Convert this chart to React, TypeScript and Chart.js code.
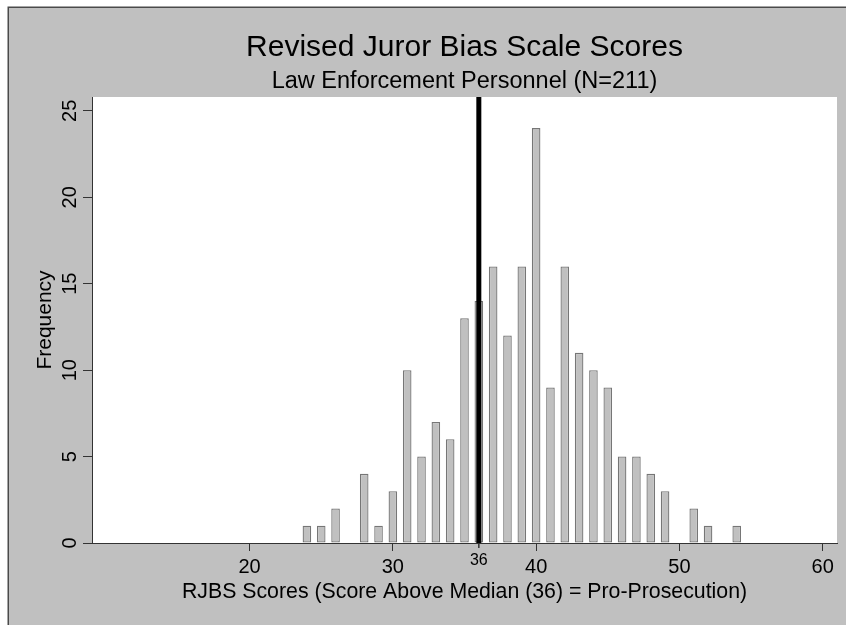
import { useEffect, useRef } from 'react';
import { Chart, registerables } from 'chart.js';

Chart.register(...registerables);

// ---- data ----
const scores = [24, 25, 26, 28, 29, 30, 31, 32, 33, 34, 35, 36, 37, 38, 39, 40, 41, 42, 43, 44, 45, 46, 47, 48, 49, 51, 52, 54];
const frequencies = [1, 1, 2, 4, 1, 3, 10, 5, 7, 6, 13, 14, 16, 12, 16, 24, 9, 16, 11, 10, 9, 5, 5, 4, 3, 2, 1, 1];
const xTickValues = [20, 30, 40, 50, 60];
const yTickValues = [0, 5, 10, 15, 20, 25];
const medianScore = 36;
const titleText = 'Revised Juror Bias Scale Scores';
const subtitleText = 'Law Enforcement Personnel (N=211)';
const xTitleText = 'RJBS Scores (Score Above Median (36) = Pro-Prosecution)';
const yTitleText = 'Frequency';

const W = 846;
const H = 625;
const FONT = "'Liberation Sans', Arial, Helvetica, sans-serif";

export default function App() {
  const ref = useRef<HTMLCanvasElement>(null);

  useEffect(() => {
    const canvas = ref.current;
    if (!canvas) return;

    const decor = {
      id: 'decor',
      beforeDraw(chart: any) {
        const { ctx, chartArea: a } = chart;
        ctx.save();
        ctx.fillStyle = '#ffffff';
        ctx.fillRect(0, 0, W, H);
        ctx.fillStyle = '#c0c0c0';
        ctx.fillRect(8, 7, W - 8, H - 7);
        ctx.strokeStyle = '#4a4a4a';
        ctx.lineWidth = 1.5;
        ctx.beginPath();
        ctx.moveTo(8.25, H);
        ctx.lineTo(8.25, 7.25);
        ctx.lineTo(W, 7.25);
        ctx.stroke();
        ctx.fillStyle = '#ffffff';
        ctx.fillRect(a.left, a.top, a.right - a.left, a.bottom - a.top);
        ctx.restore();
      },
      afterDatasetsDraw(chart: any) {
        const { ctx, chartArea: a } = chart;
        const x = chart.scales.x.getPixelForValue(medianScore);
        ctx.save();
        ctx.strokeStyle = '#000000';
        ctx.lineWidth = 5;
        ctx.beginPath();
        ctx.moveTo(x, a.top);
        ctx.lineTo(x, a.bottom);
        ctx.stroke();
        ctx.lineWidth = 1.5;
        ctx.strokeStyle = '#333333';
        ctx.beginPath();
        ctx.moveTo(x, a.bottom);
        ctx.lineTo(x, a.bottom + 5);
        ctx.stroke();
        ctx.restore();
      },
      afterDraw(chart: any) {
        const { ctx, chartArea: a } = chart;
        const cx = (a.left + a.right) / 2;
        const yScale = chart.scales.y;
        const xScale = chart.scales.x;
        ctx.save();
        ctx.fillStyle = '#000000';
        ctx.textAlign = 'center';
        ctx.textBaseline = 'alphabetic';

        ctx.font = `30px ${FONT}`;
        ctx.fillText(titleText, cx, 56);
        ctx.font = `23.5px ${FONT}`;
        ctx.fillText(subtitleText, cx, 88);
        ctx.font = `21.3px ${FONT}`;
        ctx.fillText(xTitleText, cx, 598);

        // median tick label
        ctx.font = `16px ${FONT}`;
        ctx.fillText(String(medianScore), xScale.getPixelForValue(medianScore), 565);

        // y tick labels (rotated)
        ctx.font = `20px ${FONT}`;
        for (const v of yTickValues) {
          const y = yScale.getPixelForValue(v);
          ctx.save();
          ctx.translate(76, y);
          ctx.rotate(-Math.PI / 2);
          ctx.fillText(String(v), 0, 0);
          ctx.restore();
        }

        // y axis title
        ctx.font = `21px ${FONT}`;
        ctx.save();
        ctx.translate(51, (a.top + a.bottom) / 2);
        ctx.rotate(-Math.PI / 2);
        ctx.fillText(yTitleText, 0, 0);
        ctx.restore();

        ctx.restore();
      },
    };

    const chart = new Chart(canvas, {
      type: 'bar',
      data: {
        datasets: [
          {
            data: scores.map((s, i) => ({ x: s, y: frequencies[i] })),
            backgroundColor: '#c0c0c0',
            borderColor: '#767676',
            borderWidth: 1.3,
            borderSkipped: false,
            barPercentage: 0.6,
            categoryPercentage: 1,
          } as any,
        ],
      },
      options: {
        responsive: false,
        animation: false,
        events: [],
        layout: { padding: { left: 0, top: 97, right: 9, bottom: 0 }, autoPadding: false } as any,
        plugins: {
          legend: { display: false },
          title: { display: false },
          tooltip: { enabled: false },
        },
        scales: {
          x: {
            type: 'linear',
            min: 9,
            max: 61,
            offset: false,
            afterBuildTicks: (s: any) => {
              s.ticks = xTickValues.map((v) => ({ value: v }));
            },
            afterFit: (s: any) => {
              s.height = 82;
            },
            grid: {
              drawOnChartArea: false,
              drawTicks: true,
              tickLength: 8,
              color: '#333333',
              offset: false,
            },
            border: { display: true, color: '#333333', width: 1 },
            ticks: {
              font: { family: FONT, size: 20 },
              color: '#000000',
              padding: 4,
              maxRotation: 0,
              minRotation: 0,
              autoSkip: false,
            },
          },
          y: {
            type: 'linear',
            min: 0,
            max: 25.8,
            afterBuildTicks: (s: any) => {
              s.ticks = yTickValues.map((v) => ({ value: v }));
            },
            afterFit: (s: any) => {
              s.width = 92;
            },
            grid: {
              drawOnChartArea: false,
              drawTicks: true,
              tickLength: 9,
              color: '#333333',
            },
            border: { display: true, color: '#333333', width: 1 },
            ticks: { display: false },
          },
        },
      } as any,
      plugins: [decor],
    });

    return () => chart.destroy();
  }, []);

  return (
    <div style={{ position: 'fixed', left: 0, top: 0, width: W, height: H }}>
      <canvas ref={ref} width={W} height={H} style={{ display: 'block', width: W, height: H }} />
    </div>
  );
}
